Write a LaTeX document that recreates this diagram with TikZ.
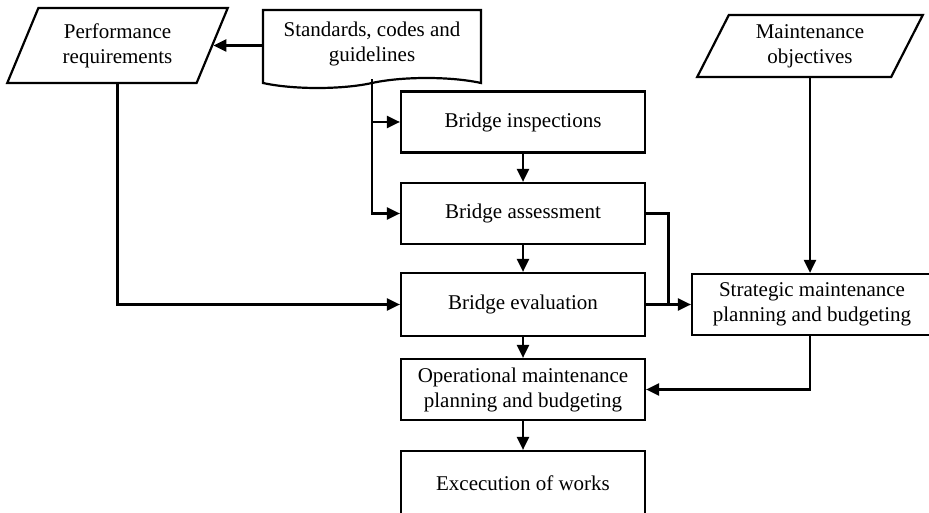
\documentclass[tikz,border=0pt]{standalone}
\usepackage{fontspec}
\setmainfont{Liberation Serif}
\usetikzlibrary{arrows.meta,shapes.geometric,shapes.symbols,calc}
\tikzset{
  flownode/.style = {align=center, inner sep=0pt, text centered,
    font=\fontsize{21}{25}\selectfont, draw=black},
  fc_proc/.style = {flownode, rectangle, minimum width=244pt,
    minimum height=61pt},% flowchart, process
  fc_data/.style = {flownode, trapezium, trapezium left angle=64,
    trapezium right angle=116, trapezium stretches=true},% flowchart, data
  fc_doc/.style = {flownode, tape, tape bend top=none,
    tape bend bottom=in and out, tape bend height=10pt}% flowchart, document
}

\begin{document}
\begin{tikzpicture}[x=1pt,y=-1pt,->,>={Triangle[length=13pt,width=12pt]},line width=2.2pt]

	\path[use as bounding box,clip] (0,0) rectangle (929,513);

	\node [fc_data, minimum width=221pt, minimum height=75pt] (perf) at (117.5,45.5) {Performance\\requirements};
	\node [fc_doc, minimum width=218pt, minimum height=78pt] (std) at (372,44) {Standards, codes and\\guidelines};
	\node [fc_data, minimum width=226pt, minimum height=62pt] (obj) at (810,46) {Maintenance\\objectives};

	\node [fc_proc] (insp) at (523,122) {Bridge inspections};
	\node [fc_proc] (assess) at (523,213.5) {Bridge assessment};
	\node [fc_proc, minimum height=63pt] (eval) at (523,304.5) {Bridge evaluation};
	\node [fc_proc] (oper) at (523,389.5) {Operational maintenance\\planning and budgeting};
	\node [fc_proc, minimum height=64pt] (exec) at (523,483) {Excecution of works};
	\node [fc_proc, minimum width=240pt] (strat) at (812,304.5) {Strategic maintenance\\planning and budgeting};

	\draw (std.west |- perf.east) -- (perf.east);
	\draw (perf.south) |- (eval.west);
	\draw (std.south) |- (assess.west);
	\draw (std.south |- insp.west) -- (insp.west);

	\draw (insp) -- (assess);
	\draw (assess) -- (eval);
	\draw (eval) -- (oper);
	\draw (oper) -- (exec);

	\draw (eval) -- (strat);
	\draw [-] (assess.east) -| ($(eval.east)!0.5!(strat.west)$);
	\draw (obj.south) -- (obj.south |- strat.north);
	\draw (obj.south |- strat.south) |- (oper.east);

\end{tikzpicture}
\end{document}
